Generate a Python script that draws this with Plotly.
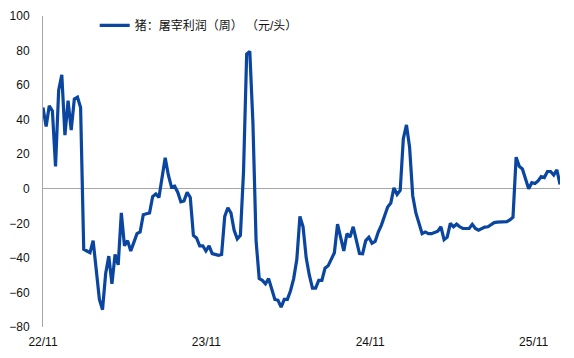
import plotly.graph_objects as go
import pandas as pd

values = [
    47, 36, 48, 45, 13, 57, 66, 31, 51, 34,
    52, 53, 47, -35, -36, -37, -30, -47, -64, -70,
    -49, -39, -55, -38, -44, -14, -33, -30, -36, -31,
    -26, -25, -15, -14.5, -14, -4.5, -3, -5, 6, 18,
    8, 1, 1.5, -2, -7.5, -7, -2, -5, -27, -28.5,
    -33, -33, -36, -33, -37.5, -38, -38.5, -38, -16, -11,
    -14, -24, -29, -27, 10, 78, 79.5, 38, -30, -52,
    -53, -55, -52, -58, -64, -64.5, -68.5, -64, -64, -59,
    -52, -41, -16, -22, -40, -50, -57.5, -57.5, -53, -53,
    -46, -44.6, -41, -37, -20.5, -29, -36, -26, -28, -22,
    -29, -37.5, -37.6, -30, -28, -31.5, -30.5, -25, -21, -15,
    -10.5, -8.3, 0.5, -3.3, -1, 29, 37, 24, -4, -14,
    -20, -26, -25, -26, -26, -25, -24.5, -22, -29.5, -28,
    -20, -22, -20.5, -22, -23, -23, -23, -20.6, -23, -24,
    -23, -22.2, -22, -20.5, -19.6, -19.3, -19.3, -19.3, -19, -18,
    -16.5, 18.3, 13, 11.5, 6, 0, 3.5, 3, 4.5, 7,
    6.5, 10, 10, 8, 11, 2.5,
]
dates = pd.date_range("2022-11-01", periods=len(values), freq="7D")
tick_dates = ["2022-11-01", "2023-11-01", "2024-11-01", "2025-11-01"]
tick_labels = ["22/11", "23/11", "24/11", "25/11"]
y_ticks = [-80, -60, -40, -20, 0, 20, 40, 60, 80, 100]
series_name = "猪：屠宰利润（周） （元/头）"

font_family = "Liberation Sans, Noto Sans CJK SC, sans-serif"

fig = go.Figure()
fig.add_trace(go.Scatter(
    x=dates, y=values, mode="lines", name=series_name,
    line=dict(color="#0a46a0", width=3.2),
))

fig.update_layout(
    width=574, height=358,
    margin=dict(l=40, r=14, t=9, b=26),
    paper_bgcolor="white", plot_bgcolor="white",
    font=dict(family=font_family, size=12, color="#111111"),
    showlegend=True,
    legend=dict(
        x=0.1, y=0.97, xanchor="left", yanchor="middle",
        bgcolor="rgba(0,0,0,0)", font=dict(size=12, color="#111111"),
        itemwidth=30,
    ),
    xaxis=dict(
        range=[dates[0], dates[-1]],
        tickvals=tick_dates, ticktext=tick_labels,
        showgrid=False, zeroline=False, showline=False,
        ticks="", ticklabelstandoff=6,
    ),
    yaxis=dict(
        range=[-80, 100], tickvals=y_ticks,
        showgrid=False, zeroline=True, zerolinecolor="#a6a6a6", zerolinewidth=1,
        showline=True, linecolor="#a6a6a6", linewidth=1,
        ticks="", ticklabelstandoff=10,
    ),
)

fig.write_html("out.html")
